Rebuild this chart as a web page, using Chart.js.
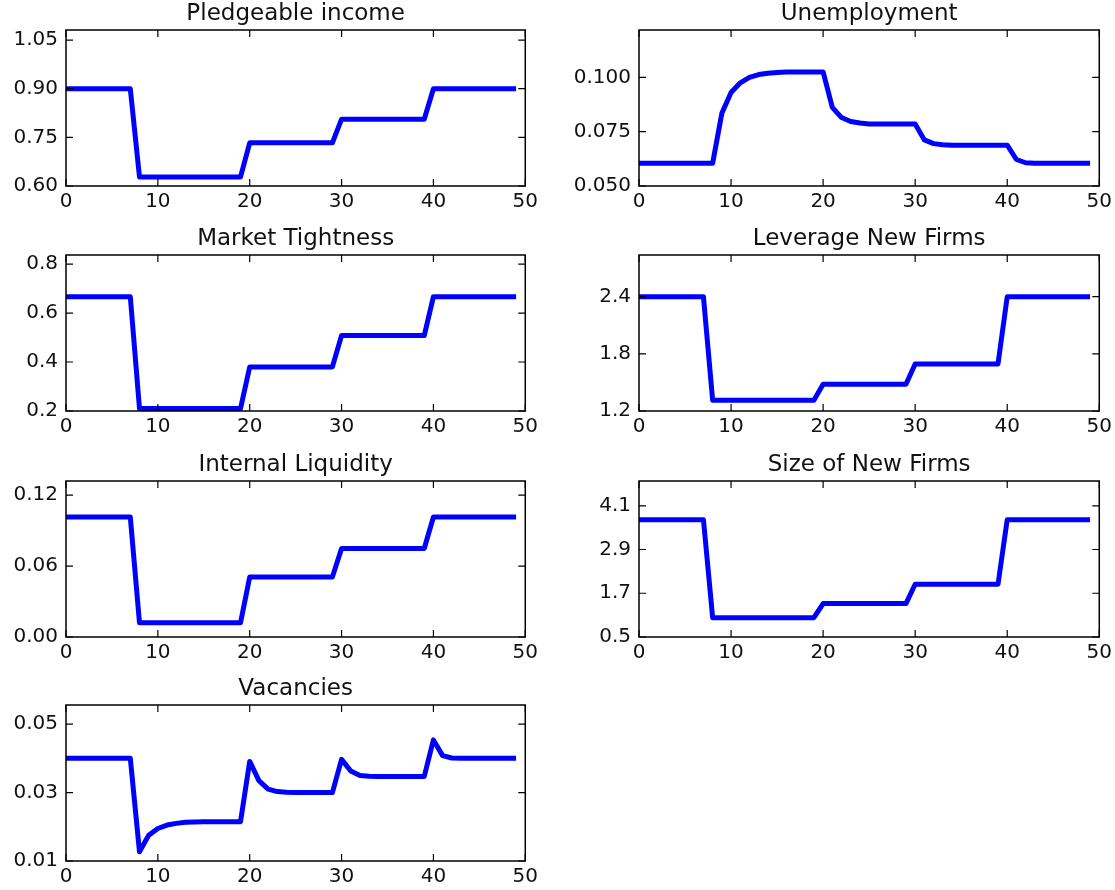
<!DOCTYPE html>
<html>
<head>
<meta charset="utf-8">
<script src="https://cdn.jsdelivr.net/npm/chart.js@4.4.1/dist/chart.umd.min.js"></script>
<style>
  html, body { margin: 0; padding: 0; background: #fff; }
  #page { position: relative; width: 1115px; height: 890px; }
  .panel { position: absolute; }
</style>
</head>
<body>
<div id="page"></div>
<script>
// periods on the x axis
const periods = [0,1,2,3,4,5,6,7,8,9,10,11,12,13,14,15,16,17,18,19,20,21,22,23,24,25,26,27,28,29,30,31,32,33,34,35,36,37,38,39,40,41,42,43,44,45,46,47,48,49];

const pledgeable = [0.9,0.9,0.9,0.9,0.9,0.9,0.9,0.9,
  0.628,0.628,0.628,0.628,0.628,0.628,0.628,0.628,0.628,0.628,0.628,0.628,
  0.733,0.733,0.733,0.733,0.733,0.733,0.733,0.733,0.733,0.733,
  0.806,0.806,0.806,0.806,0.806,0.806,0.806,0.806,0.806,0.806,
  0.9,0.9,0.9,0.9,0.9,0.9,0.9,0.9,0.9,0.9];

const unemployment = [0.0605,0.0605,0.0605,0.0605,0.0605,0.0605,0.0605,0.0605,0.0605,
  0.0835,0.093,0.0975,0.1,0.1013,0.1019,0.1022,
  0.1025,0.1025,0.1025,0.1025,0.1025,
  0.0862,0.0815,0.0797,0.079,
  0.0785,0.0785,0.0785,0.0785,0.0785,0.0785,
  0.0712,0.0695,0.069,
  0.0688,0.0688,0.0688,0.0688,0.0688,0.0688,0.0688,
  0.0622,0.0607,
  0.0605,0.0605,0.0605,0.0605,0.0605,0.0605,0.0605];

const tightness = [0.667,0.667,0.667,0.667,0.667,0.667,0.667,0.667,
  0.21,0.21,0.21,0.21,0.21,0.21,0.21,0.21,0.21,0.21,0.21,0.21,
  0.38,0.38,0.38,0.38,0.38,0.38,0.38,0.38,0.38,0.38,
  0.508,0.508,0.508,0.508,0.508,0.508,0.508,0.508,0.508,0.508,
  0.667,0.667,0.667,0.667,0.667,0.667,0.667,0.667,0.667,0.667];

const leverage = [2.4,2.4,2.4,2.4,2.4,2.4,2.4,2.4,
  1.313,1.313,1.313,1.313,1.313,1.313,1.313,1.313,1.313,1.313,1.313,1.313,
  1.48,1.48,1.48,1.48,1.48,1.48,1.48,1.48,1.48,1.48,
  1.694,1.694,1.694,1.694,1.694,1.694,1.694,1.694,1.694,1.694,
  2.4,2.4,2.4,2.4,2.4,2.4,2.4,2.4,2.4,2.4];

const liquidity = [0.1015,0.1015,0.1015,0.1015,0.1015,0.1015,0.1015,0.1015,
  0.012,0.012,0.012,0.012,0.012,0.012,0.012,0.012,0.012,0.012,0.012,0.012,
  0.0508,0.0508,0.0508,0.0508,0.0508,0.0508,0.0508,0.0508,0.0508,0.0508,
  0.0748,0.0748,0.0748,0.0748,0.0748,0.0748,0.0748,0.0748,0.0748,0.0748,
  0.1015,0.1015,0.1015,0.1015,0.1015,0.1015,0.1015,0.1015,0.1015,0.1015];

const firmSize = [3.72,3.72,3.72,3.72,3.72,3.72,3.72,3.72,
  1.03,1.03,1.03,1.03,1.03,1.03,1.03,1.03,1.03,1.03,1.03,1.03,
  1.416,1.416,1.416,1.416,1.416,1.416,1.416,1.416,1.416,1.416,
  1.947,1.947,1.947,1.947,1.947,1.947,1.947,1.947,1.947,1.947,
  3.72,3.72,3.72,3.72,3.72,3.72,3.72,3.72,3.72,3.72];

const vacancies = [0.04,0.04,0.04,0.04,0.04,0.04,0.04,0.04,
  0.0127,0.0175,0.0195,0.0205,0.021,0.0213,0.0214,
  0.0215,0.0215,0.0215,0.0215,0.0215,
  0.0391,0.0335,0.031,0.0303,0.0301,
  0.030,0.030,0.030,0.030,0.030,
  0.0397,0.0363,0.035,0.0348,
  0.0347,0.0347,0.0347,0.0347,0.0347,0.0347,
  0.0454,0.0408,0.0401,
  0.04,0.04,0.04,0.04,0.04,0.04,0.04];

// y tick labels for each panel
const pledgeTicks = [0.60, 0.75, 0.90, 1.05];
const unempTicks = [0.050, 0.075, 0.100];
const tightTicks = [0.2, 0.4, 0.6, 0.8];
const levTicks = [1.2, 1.8, 2.4];
const liqTicks = [0.00, 0.06, 0.12];
const sizeTicks = [0.5, 1.7, 2.9, 4.1];
const vacTicks = [0.01, 0.03, 0.05];

const panels = [
  { title: 'Pledgeable income', values: pledgeable, ticks: pledgeTicks, dec: 2, min: 0.6, max: 1.081, col: 0, row: 0 },
  { title: 'Unemployment', values: unemployment, ticks: unempTicks, dec: 3, min: 0.05, max: 0.1218, col: 1, row: 0 },
  { title: 'Market Tightness', values: tightness, ticks: tightTicks, dec: 1, min: 0.2, max: 0.837, col: 0, row: 1 },
  { title: 'Leverage New Firms', values: leverage, ticks: levTicks, dec: 1, min: 1.2, max: 2.838, col: 1, row: 1 },
  { title: 'Internal Liquidity', values: liquidity, ticks: liqTicks, dec: 2, min: 0, max: 0.1319, col: 0, row: 2 },
  { title: 'Size of New Firms', values: firmSize, ticks: sizeTicks, dec: 1, min: 0.5, max: 4.78, col: 1, row: 2 },
  { title: 'Vacancies', values: vacancies, ticks: vacTicks, dec: 2, min: 0.01, max: 0.0556, col: 0, row: 3 }
];

// plot box geometry
const cols = [{ left: 66, width: 460 }, { left: 639, width: 461 }];
const rowTops = [30, 255, 481, 705];
const plotH = 156;
const yAxisW = 66, titleH = 30, xAxisH = 28, padRight = 16;

const font = "'DejaVu Sans', sans-serif";

// matplotlib-style frame with inward ticks on all four sides
const framePlugin = {
  id: 'frame',
  afterDatasetsDraw(chart) {
    const { ctx, chartArea: a, scales } = chart;
    const tl = 7;
    ctx.save();
    ctx.strokeStyle = '#000';
    ctx.lineWidth = 1.2;
    ctx.beginPath();
    scales.x.ticks.forEach(t => {
      const px = scales.x.getPixelForValue(t.value);
      ctx.moveTo(px, a.bottom); ctx.lineTo(px, a.bottom - tl);
      ctx.moveTo(px, a.top); ctx.lineTo(px, a.top + tl);
    });
    scales.y.ticks.forEach(t => {
      const py = scales.y.getPixelForValue(t.value);
      ctx.moveTo(a.left, py); ctx.lineTo(a.left + tl, py);
      ctx.moveTo(a.right, py); ctx.lineTo(a.right - tl, py);
    });
    ctx.stroke();
    ctx.lineWidth = 1.5;
    ctx.strokeRect(a.left, a.top, a.right - a.left, a.bottom - a.top);
    ctx.restore();
  }
};

const page = document.getElementById('page');

panels.forEach(p => {
  const c = cols[p.col];
  const div = document.createElement('div');
  div.className = 'panel';
  div.style.left = (c.left - yAxisW) + 'px';
  div.style.top = (rowTops[p.row] - titleH) + 'px';
  div.style.width = (yAxisW + c.width + padRight) + 'px';
  div.style.height = (titleH + plotH + xAxisH) + 'px';
  const canvas = document.createElement('canvas');
  div.appendChild(canvas);
  page.appendChild(div);

  new Chart(canvas.getContext('2d'), {
    type: 'line',
    data: {
      datasets: [{
        data: periods.map((t, i) => ({ x: t, y: p.values[i] })),
        borderColor: '#0000ff',
        borderWidth: 5,
        borderJoinStyle: 'round',
        borderCapStyle: 'butt',
        pointRadius: 0,
        tension: 0,
        fill: false
      }]
    },
    options: {
      responsive: true,
      maintainAspectRatio: false,
      animation: false,
      layout: { padding: { left: 0, right: padRight, top: 0, bottom: 0 } },
      plugins: {
        legend: { display: false },
        tooltip: { enabled: false },
        title: {
          display: true,
          text: p.title,
          fullSize: false,
          color: '#111',
          font: { family: font, size: 23, weight: 'normal', lineHeight: '24px' },
          padding: { top: 2, bottom: 4 }
        }
      },
      scales: {
        x: {
          type: 'linear',
          min: 0,
          max: 50,
          grid: { display: false, drawTicks: false },
          border: { display: false },
          ticks: { stepSize: 10, color: '#111', padding: 4, maxRotation: 0, font: { family: font, size: 20 } },
          afterFit: s => { s.height = xAxisH; }
        },
        y: {
          min: p.min,
          max: p.max,
          grid: { display: false, drawTicks: false },
          border: { display: false },
          afterBuildTicks: s => { s.ticks = p.ticks.map(v => ({ value: v })); },
          ticks: { color: '#111', padding: 8, font: { family: font, size: 20 }, callback: v => Number(v).toFixed(p.dec) },
          afterFit: s => { s.width = yAxisW; }
        }
      }
    },
    plugins: [framePlugin]
  });
});
</script>
</body>
</html>
